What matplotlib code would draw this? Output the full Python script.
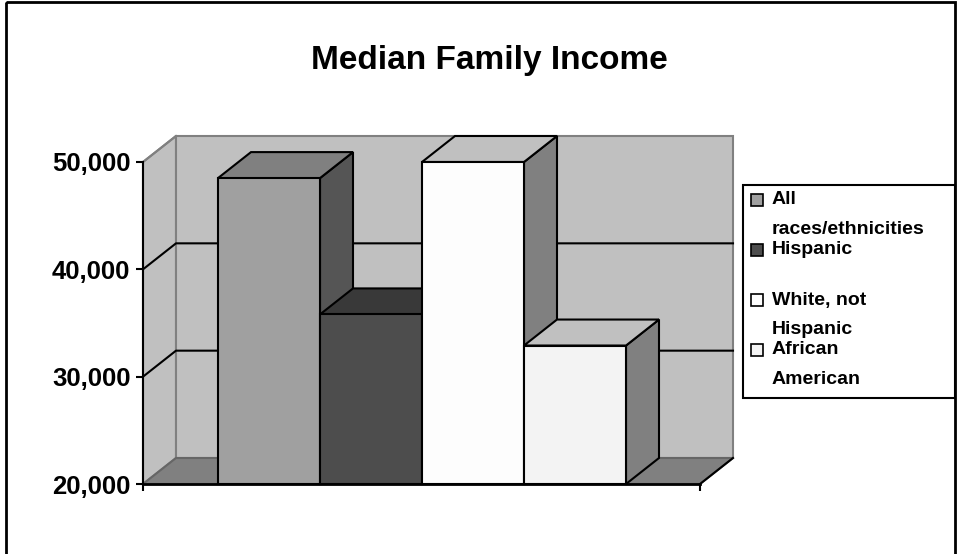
import matplotlib
matplotlib.use("Agg")
import matplotlib.pyplot as plt
from matplotlib.patches import Rectangle

plt.rcParams['font.family'] = ['Liberation Sans', 'DejaVu Sans']
plt.rcParams['font.weight'] = 'bold'

# Values
categories = ['All\nraces/ethnicities', 'Hispanic', 'White, not\nHispanic', 'African\nAmerican']
income = [48500, 35800, 50000, 32900]
y_ticks = [20000, 30000, 40000, 50000]
y_labels = ['20,000', '30,000', '40,000', '50,000']

# front, top, side colours of each bar
front_colors = ['#A0A0A0', '#4D4D4D', '#FDFDFD', '#F3F3F3']
top_colors = ['#808080', '#393939', '#C0C0C0', '#C0C0C0']
side_colors = ['#555555', '#393939', '#808080', '#808080']

W, H = 958, 554
fig = plt.figure(figsize=(W / 100, H / 100), dpi=100)

# plot area, pixel box of the front of the 3D chart
left, right, top, bottom = 143, 700, 162, 484
ax = fig.add_axes([left / W, 1 - bottom / H, (right - left) / W, (bottom - top) / H])
bar_w = 1.0
xmax = (right - left) / 102
ax.set_xlim(0, xmax)
ax.set_ylim(20000, 50000)
ax.patch.set_visible(False)
for s in ['top', 'right']:
    ax.spines[s].set_visible(False)
ax.spines['left'].set_linewidth(1.5)
ax.spines['bottom'].set_linewidth(2)

# depth of the 3D box in data units
dx = 33 / 102
dy = 26 / 322 * 30000


def face(xs, ys, color, edge='black', lw=1.5, z=2):
    ax.fill(xs, ys, facecolor=color, edgecolor=edge, linewidth=lw, clip_on=False,
            zorder=z, joinstyle='miter')


# walls and floor
ymin, ymax = 20000, 50000
face([0, dx, dx, 0], [ymin, ymin + dy, ymax + dy, ymax], '#C0C0C0', edge='#808080', lw=1.5, z=1)
face([dx, xmax + dx, xmax + dx, dx], [ymin + dy, ymin + dy, ymax + dy, ymax + dy], '#C0C0C0', edge='#808080', lw=1.5, z=1)
face([0, dx, xmax + dx, xmax], [ymin, ymin + dy, ymin + dy, ymin], '#808080', edge='#666666', lw=1.5, z=1.1)
ax.plot([xmax, xmax + dx], [ymin, ymin + dy], color='black', lw=1.5, clip_on=False, zorder=1.2)

# gridlines
for t in y_ticks[1:3]:
    ax.plot([0, dx, xmax + dx], [t, t + dy, t + dy], color='black', lw=1.5, clip_on=False, zorder=1.3)
ax.plot([0, dx], [ymax, ymax + dy], color='#808080', lw=1.5, clip_on=False, zorder=1.3)

# bars, back to front in order
x_start = 75 / 102
for i, v in enumerate(income):
    x0 = x_start + i * bar_w
    x1 = x0 + bar_w
    z = 3 + i
    face([x1, x1 + dx, x1 + dx, x1], [ymin, ymin + dy, v + dy, v], side_colors[i], z=z)
    face([x0, x0 + dx, x1 + dx, x1], [v, v + dy, v + dy, v], top_colors[i], z=z)
    face([x0, x1, x1, x0], [ymin, ymin, v, v], front_colors[i], z=z)

ax.set_yticks(y_ticks)
ax.set_yticklabels(y_labels, fontsize=18.5, fontweight='bold')
ax.set_xticks([0, xmax])
ax.set_xticklabels([])
ax.tick_params(axis='both', length=5, width=1.5, pad=4, color='black')

# overlay in pixel coordinates for frame, title and legend
ov = fig.add_axes([0, 0, 1, 1], zorder=20)
ov.set_xlim(0, W)
ov.set_ylim(H, 0)
ov.axis('off')
ov.patch.set_visible(False)

ov.add_patch(Rectangle((6, 2), 949, 560, fill=False, edgecolor='black', linewidth=2, clip_on=False))
ov.text(489, 60, 'Median Family Income', ha='center', va='center', fontsize=24, fontweight='bold')

ov.add_patch(Rectangle((743.5, 184.5), 212, 213, facecolor='white', edgecolor='black', linewidth=1.5))
entry_y = [200, 250, 300, 350]
for y, label, c in zip(entry_y, categories, front_colors):
    ov.add_patch(Rectangle((751, y - 6), 12, 12, facecolor=c, edgecolor='black', linewidth=1.2))
    for j, line in enumerate(label.split('\n')):
        ov.text(772, y + j * 29, line, ha='left', va='center', fontsize=14, fontweight='bold')

fig.savefig('out.png', dpi=100)
